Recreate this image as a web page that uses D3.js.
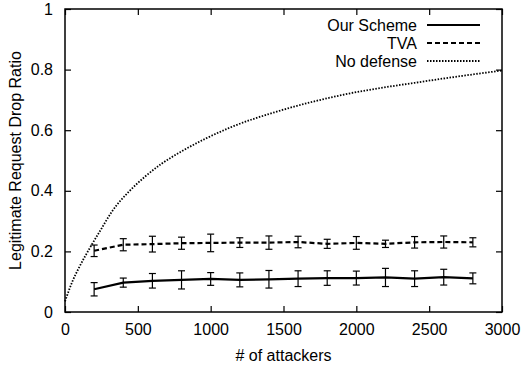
<!DOCTYPE html>
<html>
<head>
<meta charset="utf-8">
<script src="https://cdn.jsdelivr.net/npm/d3@7"></script>
<style>
  body { margin: 0; background: #fff; }
  text { font-family: "Liberation Sans", Arial, sans-serif; fill: #000; }
</style>
</head>
<body>
<div id="chart"></div>
<script>
// attackers on the x axis
const attackers = [200, 400, 600, 800, 1000, 1200, 1400, 1600, 1800, 2000, 2200, 2400, 2600, 2800];

// Our Scheme: mean and error (half-height of bar)
const oursMean = [0.075, 0.097, 0.103, 0.106, 0.109, 0.106, 0.108, 0.110, 0.112, 0.112, 0.114, 0.110, 0.115, 0.111];
const oursErr  = [0.022, 0.015, 0.024, 0.030, 0.021, 0.023, 0.029, 0.026, 0.024, 0.023, 0.030, 0.026, 0.026, 0.018];

// TVA
const tvaMean = [0.202, 0.222, 0.224, 0.227, 0.228, 0.229, 0.229, 0.231, 0.225, 0.228, 0.225, 0.230, 0.231, 0.230];
const tvaErr  = [0.019, 0.020, 0.026, 0.020, 0.029, 0.016, 0.022, 0.019, 0.015, 0.021, 0.012, 0.019, 0.020, 0.015];

// No defense curve
const noDefX = [0, 50, 100, 175, 250, 320, 440, 550, 665, 800, 1130, 1480, 1900, 2450, 3000];
const noDefY = [0.035, 0.10, 0.15, 0.215, 0.275, 0.33, 0.398, 0.447, 0.49, 0.53, 0.608, 0.665, 0.716, 0.76, 0.797];

const xTicks = [0, 500, 1000, 1500, 2000, 2500, 3000];
const yTicks = [0, 0.2, 0.4, 0.6, 0.8, 1];

const W = 524, H = 369;
const margin = { top: 9, right: 22, bottom: 57, left: 65 };
const width = W - margin.left - margin.right;
const height = H - margin.top - margin.bottom;

const svg = d3.select("#chart").append("svg")
    .attr("width", W)
    .attr("height", H);

const g = svg.append("g")
    .attr("transform", `translate(${margin.left},${margin.top})`);

const x = d3.scaleLinear().domain([0, 3000]).range([0, width]);
const y = d3.scaleLinear().domain([0, 1]).range([height, 0]);

const fmtY = d => d === 0 || d === 1 ? String(d) : d.toFixed(1);

// axes with inward ticks (gnuplot style, mirrored)
const tick = 6;
g.append("g")
    .attr("transform", `translate(0,${height})`)
    .call(d3.axisBottom(x).tickValues(xTicks).tickSizeInner(-tick).tickSizeOuter(0).tickPadding(12).tickFormat(d3.format("d")));
g.append("g")
    .call(d3.axisTop(x).tickValues(xTicks).tickSizeInner(-tick).tickSizeOuter(0).tickFormat(""));
g.append("g")
    .call(d3.axisLeft(y).tickValues(yTicks).tickSizeInner(-tick).tickSizeOuter(0).tickPadding(12).tickFormat(fmtY));
g.append("g")
    .attr("transform", `translate(${width},0)`)
    .call(d3.axisRight(y).tickValues(yTicks).tickSizeInner(-tick).tickSizeOuter(0).tickFormat(""));

g.selectAll(".domain").remove();
g.selectAll(".tick line").attr("stroke", "#000").attr("stroke-width", 1.2);
g.selectAll(".tick text").style("font-size", "16px").style("font-family", "Liberation Sans, Arial, sans-serif");

// frame
g.append("rect")
    .attr("x", 0).attr("y", 0)
    .attr("width", width).attr("height", height)
    .attr("fill", "none")
    .attr("stroke", "#000")
    .attr("stroke-width", 1.5);

// axis titles
svg.append("text")
    .attr("x", margin.left + width / 2)
    .attr("y", 361)
    .attr("text-anchor", "middle")
    .style("font-size", "16px")
    .text("# of attackers");

svg.append("text")
    .attr("transform", `translate(21,${margin.top + height / 2}) rotate(-90)`)
    .attr("text-anchor", "middle")
    .style("font-size", "16px")
    .text("Legitimate Request Drop Ratio");

// no defense curve
const noDef = noDefX.map((v, i) => [v, noDefY[i]]);
g.append("path")
    .datum(noDef)
    .attr("fill", "none")
    .attr("stroke", "#000")
    .attr("stroke-width", 1.8)
    .attr("stroke-dasharray", "1.5,1.5")
    .attr("d", d3.line().x(d => x(d[0])).y(d => y(d[1])).curve(d3.curveMonotoneX));

// series with error bars
const series = [
    { name: "Our Scheme", mean: oursMean, err: oursErr, dash: null },
    { name: "TVA", mean: tvaMean, err: tvaErr, dash: "5,3" }
];

const cap = 3.5;
series.forEach(s => {
    const pts = attackers.map((a, i) => ({ a: a, m: s.mean[i], e: s.err[i] }));

    const bars = g.append("g");
    pts.forEach(p => {
        const px = x(p.a);
        bars.append("line")
            .attr("x1", px).attr("x2", px)
            .attr("y1", y(p.m - p.e)).attr("y2", y(p.m + p.e))
            .attr("stroke", "#000").attr("stroke-width", 1.2);
        [p.m - p.e, p.m + p.e].forEach(v => {
            bars.append("line")
                .attr("x1", px - cap).attr("x2", px + cap)
                .attr("y1", y(v)).attr("y2", y(v))
                .attr("stroke", "#000").attr("stroke-width", 1.2);
        });
    });

    g.append("path")
        .datum(pts)
        .attr("fill", "none")
        .attr("stroke", "#000")
        .attr("stroke-width", 2.2)
        .attr("stroke-dasharray", s.dash)
        .attr("d", d3.line().x(d => x(d.a)).y(d => y(d.m)));
});

// legend
const legendItems = [
    { name: "Our Scheme", dash: null, w: 2.2 },
    { name: "TVA", dash: "5,3", w: 2.2 },
    { name: "No defense", dash: "1.5,1.5", w: 1.8 }
];
const legend = svg.append("g");
legendItems.forEach((d, i) => {
    const ly = 25 + i * 18;
    legend.append("text")
        .attr("x", 417)
        .attr("y", ly)
        .attr("dy", "0.35em")
        .attr("text-anchor", "end")
        .style("font-size", "16px")
        .text(d.name);
    legend.append("line")
        .attr("x1", 427).attr("x2", 480)
        .attr("y1", ly).attr("y2", ly)
        .attr("stroke", "#000")
        .attr("stroke-width", d.w)
        .attr("stroke-dasharray", d.dash);
});
</script>
</body>
</html>
